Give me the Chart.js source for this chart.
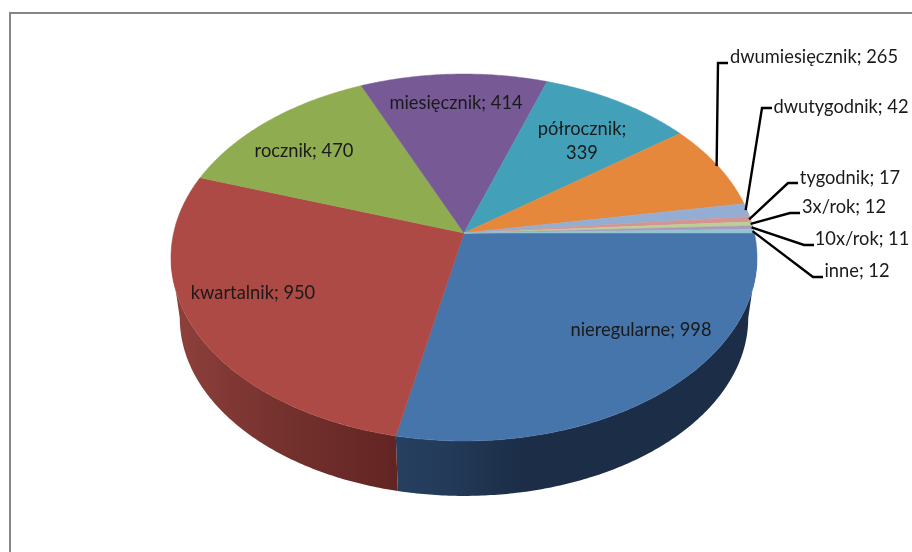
<!DOCTYPE html>
<html lang="pl">
<head>
<meta charset="utf-8">
<title>Częstotliwość</title>
<script src="https://cdn.jsdelivr.net/npm/chart.js@4/dist/chart.umd.js"></script>
<style>
    html, body { margin: 0; padding: 0; background: #fff; }
    #wrap { position: relative; width: 912px; height: 552px; overflow: hidden; }
    #frame { position: absolute; left: 9px; top: 12px; right: -5px; bottom: -5px; border: 2px solid #868686; }
    /* the reference is a slightly soft screenshot */
    #chart { position: absolute; left: 0; top: 0; filter: blur(0.4px); }
</style>
</head>
<body>
<div id="wrap">
    <div id="frame"></div>
    <canvas id="chart" width="912" height="552"></canvas>
</div>
<script>
// Chart data
const categories = ["nieregularne", "kwartalnik", "rocznik", "miesięcznik", "półrocznik",
    "dwumiesięcznik", "dwutygodnik", "tygodnik", "3x/rok", "10x/rok", "inne"];
const values = [998, 950, 470, 414, 339, 265, 42, 17, 12, 11, 12];
const colors = ["#4675ac", "#ae4a45", "#8fac51", "#775a95", "#42a0b8", "#e5883b",
    "#94add2", "#d49492", "#bad094", "#a99bbd", "#92c3d3"];

// Side wall gradients, left to right (only the two front slices show a wall)
const wallStops = {
    0: [[0, "#274060"], [0.15, "#233a58"], [0.35, "#1b2d47"], [1, "#1b2d47"]],
    1: [[0, "#8f403c"], [0.5, "#74312e"], [1, "#622422"]]
};

// Perspective of the disc: apex position, radii and tilt
const pie = { cx: 464, cy: 233, a: 290.4, b: 180.2, tilt: 0.1335 };
// The underside of the disc sits lower and a little smaller
const base = { cy: 294.2, scale: 0.97 };

// Label placement. Inside labels have only x/y, outside ones also get a leader elbow
const fontName = "Lato";
const fontSize = 18.3;
const labelPos = [
    { x: 641, y: 330 },
    { x: 253, y: 293 },
    { x: 304, y: 151 },
    { x: 456, y: 103 },
    { x: 582, y: 129, wrap: true },
    { x: 814, y: 57, elbow: [[728, 63], [718, 63]] },
    { x: 841, y: 107, elbow: [[772, 108], [762, 108]] },
    { x: 850, y: 178, elbow: [[798, 183], [788, 183]] },
    { x: 844, y: 207, elbow: [[800, 213], [790, 213]] },
    { x: 862, y: 239, elbow: [[814, 245], [804, 245]] },
    { x: 857, y: 271, elbow: [[823, 277], [813, 277]] }
];

function project(angle, r = 1) {
    const u = Math.cos(angle) * r;
    const v = -Math.sin(angle) * r;
    const w = 1 + pie.tilt * v;
    return { x: pie.cx + pie.a * u / w, y: pie.cy - pie.b * v / w };
}

function projectBase(angle) {
    const p = project(angle);
    return {
        x: pie.cx + (p.x - pie.cx) * base.scale,
        y: base.cy + (p.y - pie.cy) * base.scale
    };
}

function arcAngles(start, end) {
    const steps = Math.max(2, Math.ceil((end - start) / 0.01));
    const list = [];
    for (let i = 0; i <= steps; i++) {
        list.push(start + (end - start) * i / steps);
    }
    return list;
}

// Arc that draws itself on the tilted disc, angles still come from the pie controller
class Arc3D extends Chart.ArcElement {
    static id = "arc3d";

    draw(ctx) {
        const index = this.$context ? this.$context.dataIndex : 0;
        const start = this.startAngle;
        const end = this.endAngle;
        const fill = this.options.backgroundColor;

        // wall, only between the two points where the rim turns away
        const edge = Math.asin(pie.tilt);
        const wallStart = Math.max(start, edge);
        const wallEnd = Math.min(end, Math.PI - edge);
        if (wallEnd > wallStart && wallStops[index]) {
            const top = arcAngles(wallStart, wallEnd).map(a => project(a));
            const bottom = arcAngles(wallStart, wallEnd).map(a => projectBase(a)).reverse();
            const all = top.concat(bottom);
            const xs = all.map(p => p.x);
            const grad = ctx.createLinearGradient(Math.min(...xs), 0, Math.max(...xs), 0);
            wallStops[index].forEach(s => grad.addColorStop(s[0], s[1]));
            ctx.beginPath();
            all.forEach((p, i) => i ? ctx.lineTo(p.x, p.y) : ctx.moveTo(p.x, p.y));
            ctx.closePath();
            ctx.fillStyle = grad;
            ctx.fill();
        }

        // top face
        ctx.beginPath();
        ctx.moveTo(pie.cx, pie.cy);
        arcAngles(start, end).forEach(a => {
            const p = project(a);
            ctx.lineTo(p.x, p.y);
        });
        ctx.closePath();
        ctx.fillStyle = fill;
        ctx.fill();
        ctx.strokeStyle = fill;
        ctx.lineWidth = 0.5;
        ctx.stroke();
    }
}

class Pie3DController extends Chart.PieController {
    static id = "pie3d";
    static defaults = { dataElementType: "arc3d" };
}

Chart.register(Arc3D, Pie3DController);

// Draws the data labels and leader lines
const labelPlugin = {
    id: "sliceLabels",
    afterDatasetsDraw(chart) {
        const ctx = chart.ctx;
        const arcs = chart.getDatasetMeta(0).data;
        ctx.save();
        ctx.font = `${fontSize}px ${fontName}`;
        ctx.textAlign = "center";
        ctx.textBaseline = "middle";

        arcs.forEach((arc, i) => {
            const pos = labelPos[i];
            if (pos.elbow) {
                const tip = project((arc.startAngle + arc.endAngle) / 2, 0.995);
                ctx.beginPath();
                ctx.moveTo(pos.elbow[0][0], pos.elbow[0][1]);
                ctx.lineTo(pos.elbow[1][0], pos.elbow[1][1]);
                ctx.lineTo(tip.x, tip.y);
                ctx.strokeStyle = "#000";
                ctx.lineWidth = 2.4;
                ctx.stroke();
            }
            ctx.fillStyle = "#1a1a1a";
            if (pos.wrap) {
                ctx.fillText(categories[i] + ";", pos.x, pos.y);
                ctx.fillText(String(values[i]), pos.x, pos.y + 24);
            } else {
                ctx.fillText(categories[i] + "; " + values[i], pos.x, pos.y);
            }
        });
        ctx.restore();
    }
};

new Chart(document.getElementById("chart").getContext("2d"), {
    type: "pie3d",
    data: {
        labels: categories,
        datasets: [{ data: values, backgroundColor: colors, borderWidth: 0 }]
    },
    options: {
        responsive: false,
        animation: false,
        rotation: 90,
        plugins: { legend: { display: false }, tooltip: { enabled: false } }
    },
    plugins: [labelPlugin]
});
</script>
</body>
</html>
